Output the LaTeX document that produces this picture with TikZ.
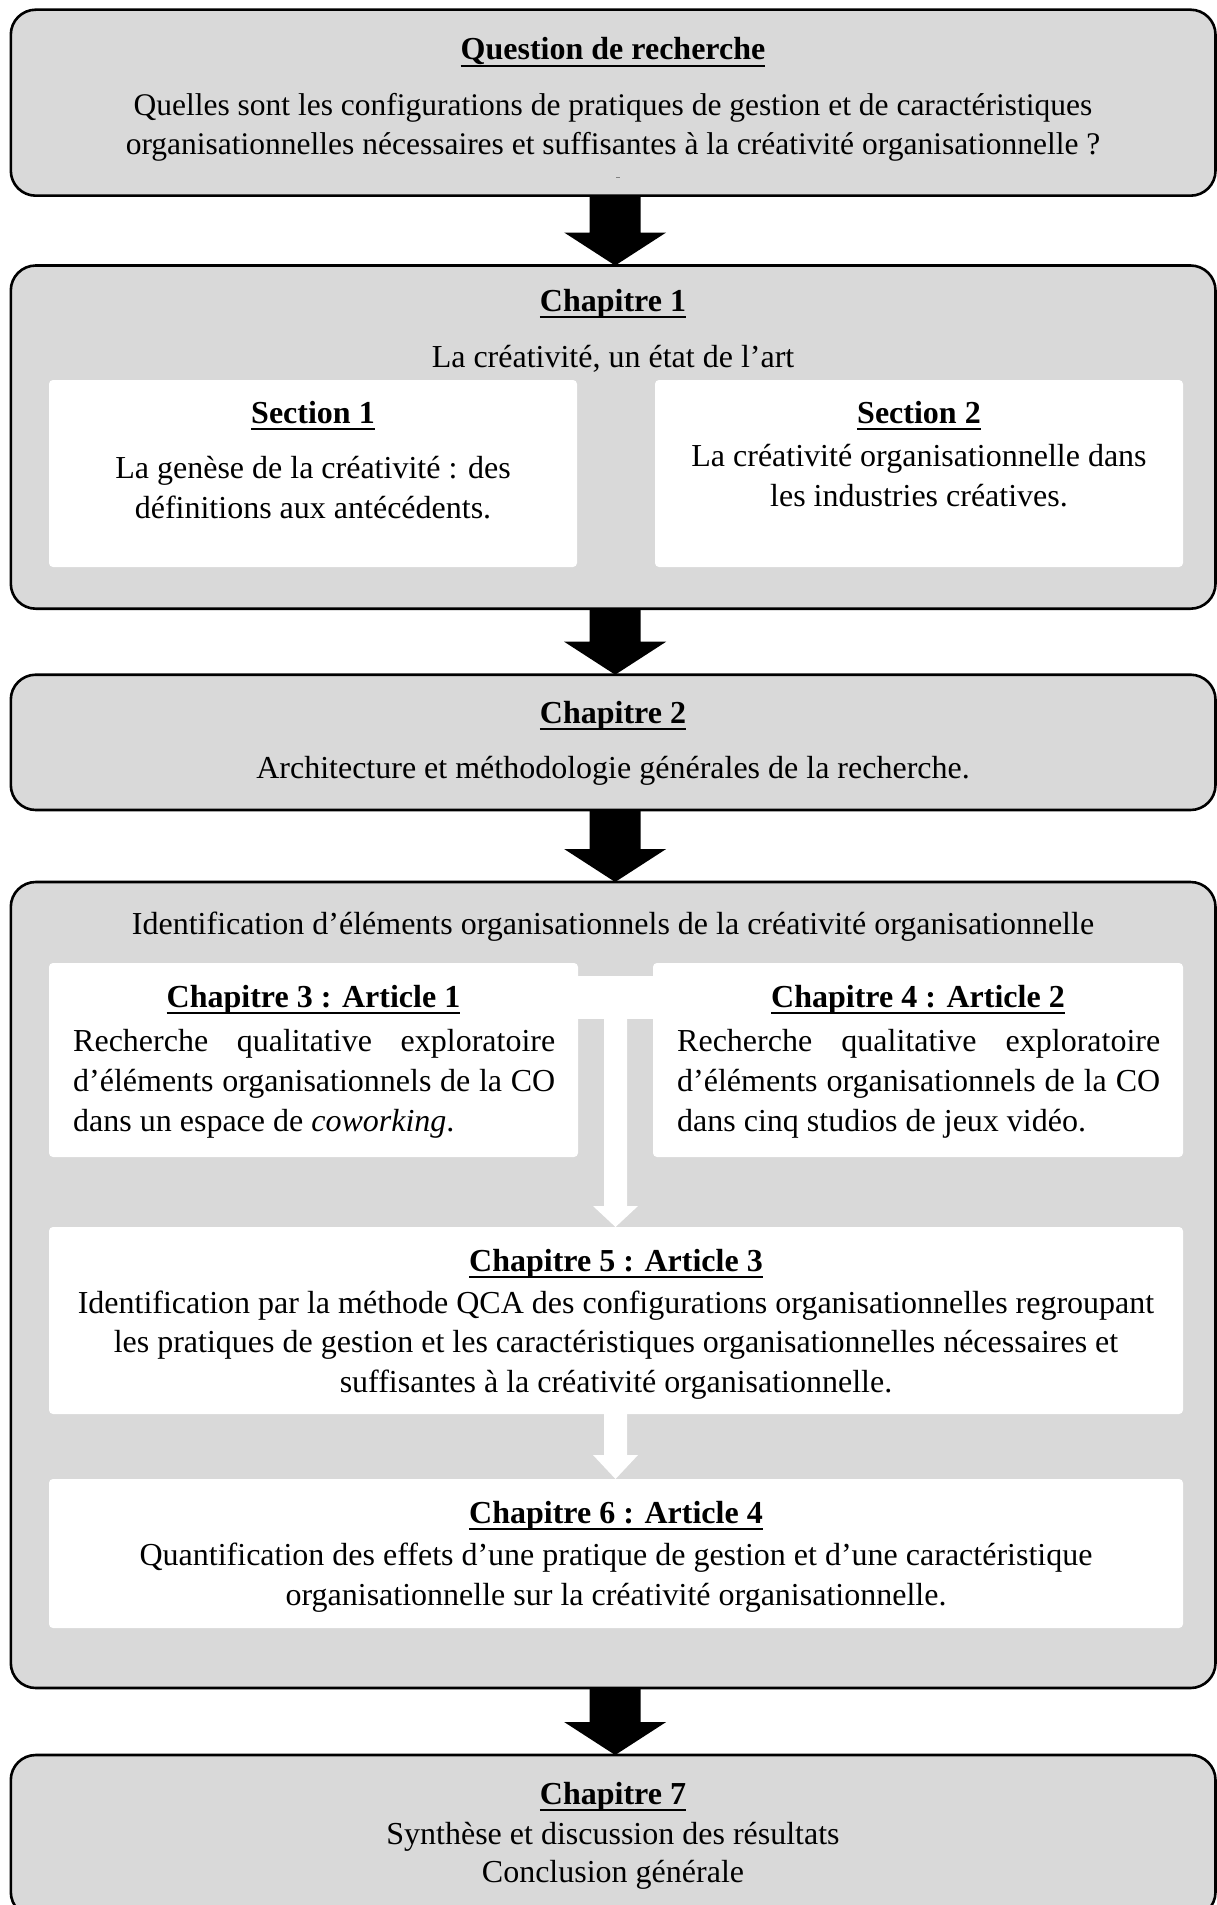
\documentclass[tikz,border=0pt]{standalone}
\usepackage{fontspec}
\setmainfont{Liberation Serif}
\usetikzlibrary{calc}
\definecolor{boxgray}{HTML}{D9D9D9}
\newcommand\fs{\fontsize{32}{40}\selectfont}
\newcommand\ttl[1]{\setbox0\hbox{\textbf{#1}}\rlap{\rule[-7pt]{\wd0}{2.4pt}}\box0}
\newcommand\bigarrow[6]{%
  \fill[#6] let \p1=(#1), \p2=(#2) in
   (\x1-#3,\y1) -- (\x1+#3,\y1) -- (\x1+#3,\y2+#5) -- (\x1+#4,\y2+#5) -- (\x1,\y2)
   -- (\x1-#4,\y2+#5) -- (\x1-#3,\y2+#5) -- cycle;}
\tikzset{
  graybox/.style={draw=black, line width=2.6pt, fill=boxgray, rounded corners=25pt,
    inner sep=0pt, outer sep=0pt, anchor=north west, minimum width=1204.7pt},
  whitebox/.style={fill=white, draw=none, rounded corners=4pt, inner sep=0pt,
    outer sep=0pt, anchor=north west},
  txt/.style={font=\fs, align=center, inner sep=0pt, anchor=base},
  jtxt/.style={font=\fs, align=left, inner sep=0pt, anchor=base west},
}
\begin{document}
\begin{tikzpicture}[x=1pt,y=-1pt]
\useasboundingbox (0,0) rectangle (1217,1905);
% gray boxes
\node[graybox, minimum height=186pt] (q) at (10.8,9.7) {};
\node[graybox, minimum height=343.2pt] (c1) at (10.8,265.5) {};
\node[graybox, minimum height=135.3pt] (c2) at (10.8,674.7) {};
\node[graybox, minimum height=806pt] (big) at (10.8,882) {};
\node[graybox, minimum height=162pt] (c7) at (10.8,1755) {};
% white boxes
\node[whitebox, minimum width=528pt, minimum height=187pt] (s1) at (49,380) {};
\node[whitebox, minimum width=528pt, minimum height=187pt] (s2) at (655,380) {};
\node[whitebox, minimum width=529pt, minimum height=194pt] (ch3) at (49,963) {};
\node[whitebox, minimum width=530pt, minimum height=194pt] (ch4) at (653,963) {};
\node[whitebox, minimum width=1134pt, minimum height=187pt] (ch5) at (49,1227) {};
\node[whitebox, minimum width=1134pt, minimum height=149pt] (ch6) at (49,1479) {};
% white connectors
\coordinate (bandA) at (0,976);
\coordinate (bandB) at (0,1019);
\coordinate (stem) at (615.5,1019);
\fill[white] (ch3.east |- bandA) rectangle (ch4.west |- bandB);
\bigarrow{stem}{ch5.north}{11.5pt}{22.5pt}{21pt}{white}
\bigarrow{$(ch5.south)+(-0.5,0)$}{ch6.north}{11.5pt}{22.5pt}{24pt}{white}
% black arrows
\bigarrow{$(q.south)+(2,0)$}{c1.north}{25.5pt}{51pt}{33pt}{black}
\bigarrow{$(c1.south)+(2,0)$}{c2.north}{25.5pt}{51pt}{33pt}{black}
\bigarrow{$(c2.south)+(2,0)$}{big.north}{25.5pt}{51pt}{33pt}{black}
\bigarrow{$(big.south)+(2,0)$}{c7.north}{25.5pt}{51pt}{33pt}{black}
% texts (multi-line nodes: base = baseline of last line)
\node[txt] (tq) at (613,60) {\ttl{Question de recherche}};
\node[txt, font=\fontsize{31.5}{39}\selectfont] (tq1) at (613,155) {Quelles sont les configurations de pratiques de gestion et de caractéristiques\\organisationnelles nécessaires et suffisantes à la créativité organisationnelle ?};
\draw[line width=0.8pt, gray] (616,177) -- (620,177);
\node[txt] (t1) at (613,311) {\ttl{Chapitre 1}};
\node[txt] (t1b) at (613,367) {La créativité, un état de l’art};
\node[txt] (ts1) at (313,423) {\ttl{Section 1}};
\node[txt] (ts1b) at (313,518) {La genèse de la créativité : des\\définitions aux antécédents.};
\node[txt] (ts2) at (919,423) {\ttl{Section 2}};
\node[txt] (ts2b) at (919,506) {La créativité organisationnelle dans\\les industries créatives.};
\node[txt] (t2) at (613,723) {\ttl{Chapitre 2}};
\node[txt] (t2b) at (613,778) {Architecture et méthodologie générales de la recherche.};
\node[txt] (tid) at (613,934) {Identification d’éléments organisationnels de la créativité organisationnelle};
\node[txt] (t3) at (313.5,1007) {\ttl{Chapitre 3 : Article 1}};
\node[jtxt] (t3b) at (73,1131) {\makebox[482pt][s]{Recherche qualitative exploratoire}\\\makebox[482pt][s]{d’éléments organisationnels de la CO}\\dans un espace de \textit{coworking}.};
\node[txt] (t4) at (918,1007) {\ttl{Chapitre 4 : Article 2}};
\node[jtxt] (t4b) at (677,1131) {\makebox[483pt][s]{Recherche qualitative exploratoire}\\\makebox[483pt][s]{d’éléments organisationnels de la CO}\\dans cinq studios de jeux vidéo.};
\node[txt] (t5) at (616,1271) {\ttl{Chapitre 5 : Article 3}};
\node[txt, font=\fontsize{32}{39.5}\selectfont] (t5b) at (616,1392) {Identification par la méthode QCA des configurations organisationnelles regroupant\\les pratiques de gestion et les caractéristiques organisationnelles nécessaires et\\suffisantes à la créativité organisationnelle.};
\node[txt] (t6) at (616,1523) {\ttl{Chapitre 6 : Article 4}};
\node[txt] (t6b) at (616,1605) {Quantification des effets d’une pratique de gestion et d’une caractéristique\\organisationnelle sur la créativité organisationnelle.};
\node[txt] (t7) at (613,1804) {\ttl{Chapitre 7}};
\node[txt, font=\fontsize{32}{38}\selectfont] (t7b) at (613,1882) {Synthèse et discussion des résultats\\Conclusion générale};
\end{tikzpicture}
\end{document}
